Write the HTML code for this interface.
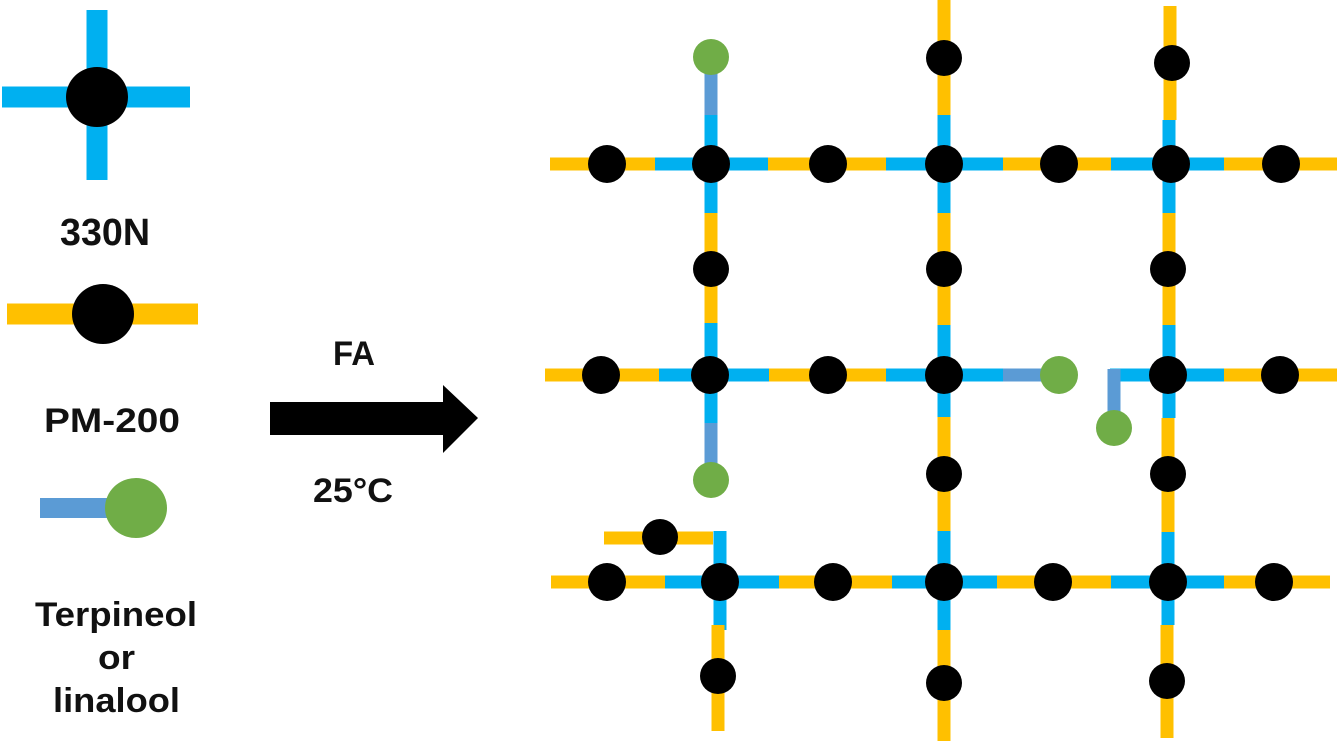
<!DOCTYPE html>
<html><head><style>html,body{margin:0;padding:0;background:#fff;}svg{display:block}</style></head><body>
<svg width="1339" height="741" viewBox="0 0 1339 741" xmlns="http://www.w3.org/2000/svg">
<g fill="none" stroke-width="13">
<line x1="550" y1="164" x2="665" y2="164" stroke="#FFC000"/>
<line x1="655" y1="164" x2="768" y2="164" stroke="#00B0F0"/>
<line x1="768" y1="164" x2="886" y2="164" stroke="#FFC000"/>
<line x1="886" y1="164" x2="1003" y2="164" stroke="#00B0F0"/>
<line x1="1003" y1="164" x2="1111" y2="164" stroke="#FFC000"/>
<line x1="1111" y1="164" x2="1224" y2="164" stroke="#00B0F0"/>
<line x1="1224" y1="164" x2="1337" y2="164" stroke="#FFC000"/>
<line x1="545" y1="375" x2="659" y2="375" stroke="#FFC000"/>
<line x1="659" y1="375" x2="769" y2="375" stroke="#00B0F0"/>
<line x1="769" y1="375" x2="886" y2="375" stroke="#FFC000"/>
<line x1="886" y1="375" x2="1003" y2="375" stroke="#00B0F0"/>
<line x1="1003" y1="375" x2="1045" y2="375" stroke="#5B9BD5"/>
<line x1="1110" y1="375" x2="1224" y2="375" stroke="#00B0F0"/>
<line x1="1224" y1="375" x2="1337" y2="375" stroke="#FFC000"/>
<line x1="1114" y1="369" x2="1114" y2="415" stroke="#5B9BD5"/>
<line x1="551" y1="582" x2="665" y2="582" stroke="#FFC000"/>
<line x1="665" y1="582" x2="779" y2="582" stroke="#00B0F0"/>
<line x1="779" y1="582" x2="892" y2="582" stroke="#FFC000"/>
<line x1="892" y1="582" x2="997" y2="582" stroke="#00B0F0"/>
<line x1="997" y1="582" x2="1111" y2="582" stroke="#FFC000"/>
<line x1="1111" y1="582" x2="1224" y2="582" stroke="#00B0F0"/>
<line x1="1224" y1="582" x2="1330" y2="582" stroke="#FFC000"/>
<line x1="604" y1="538" x2="713" y2="538" stroke="#FFC000"/>
<line x1="720" y1="531" x2="720" y2="630" stroke="#00B0F0"/>
<line x1="718" y1="625" x2="718" y2="731" stroke="#FFC000"/>
<line x1="711" y1="70" x2="711" y2="115" stroke="#5B9BD5"/>
<line x1="711" y1="115" x2="711" y2="213" stroke="#00B0F0"/>
<line x1="711" y1="213" x2="711" y2="323" stroke="#FFC000"/>
<line x1="711" y1="323" x2="711" y2="423" stroke="#00B0F0"/>
<line x1="711" y1="423" x2="711" y2="470" stroke="#5B9BD5"/>
<line x1="944" y1="0" x2="944" y2="115" stroke="#FFC000"/>
<line x1="944" y1="115" x2="944" y2="213" stroke="#00B0F0"/>
<line x1="944" y1="213" x2="944" y2="325" stroke="#FFC000"/>
<line x1="944" y1="325" x2="944" y2="417" stroke="#00B0F0"/>
<line x1="944" y1="417" x2="944" y2="531" stroke="#FFC000"/>
<line x1="944" y1="531" x2="944" y2="630" stroke="#00B0F0"/>
<line x1="944" y1="630" x2="944" y2="741" stroke="#FFC000"/>
<line x1="1170" y1="6" x2="1170" y2="120" stroke="#FFC000"/>
<line x1="1169" y1="120" x2="1169" y2="213" stroke="#00B0F0"/>
<line x1="1169" y1="213" x2="1169" y2="325" stroke="#FFC000"/>
<line x1="1169" y1="325" x2="1169" y2="418" stroke="#00B0F0"/>
<line x1="1168" y1="418" x2="1168" y2="532" stroke="#FFC000"/>
<line x1="1168" y1="532" x2="1168" y2="625" stroke="#00B0F0"/>
<line x1="1167" y1="625" x2="1167" y2="738" stroke="#FFC000"/>
</g>
<g fill="#000">
<circle cx="607" cy="164" r="19"/><circle cx="711" cy="164" r="19"/><circle cx="828" cy="164" r="19"/><circle cx="944" cy="164" r="19"/><circle cx="1059" cy="164" r="19"/><circle cx="1171" cy="164" r="19"/><circle cx="1281" cy="164" r="19"/>
<circle cx="944" cy="58" r="18"/><circle cx="1172" cy="63" r="18"/>
<circle cx="711" cy="269" r="18"/><circle cx="944" cy="269" r="18"/><circle cx="1168" cy="269" r="18"/>
<circle cx="601" cy="375" r="19"/><circle cx="710" cy="375" r="19"/><circle cx="828" cy="375" r="19"/><circle cx="944" cy="375" r="19"/><circle cx="1168" cy="375" r="19"/><circle cx="1280" cy="375" r="19"/>
<circle cx="944" cy="474" r="18"/><circle cx="1168" cy="474" r="18"/>
<circle cx="660" cy="537" r="18"/>
<circle cx="607" cy="582" r="19"/><circle cx="720" cy="582" r="19"/><circle cx="833" cy="582" r="19"/><circle cx="944" cy="582" r="19"/><circle cx="1053" cy="582" r="19"/><circle cx="1168" cy="582" r="19"/><circle cx="1274" cy="582" r="19"/>
<circle cx="718" cy="676" r="18"/><circle cx="944" cy="683" r="18"/><circle cx="1167" cy="681" r="18"/>
</g>
<g fill="#70AD47">
<circle cx="711" cy="57" r="18"/><circle cx="711" cy="480" r="18"/><circle cx="1059" cy="375" r="19"/><circle cx="1114" cy="428" r="18"/>
</g>
<line x1="2" y1="97" x2="190" y2="97" stroke="#00B0F0" stroke-width="21"/>
<line x1="97" y1="10" x2="97" y2="180" stroke="#00B0F0" stroke-width="21"/>
<ellipse cx="97" cy="97" rx="31" ry="30" fill="#000"/>
<line x1="7" y1="314" x2="198" y2="314" stroke="#FFC000" stroke-width="21"/>
<ellipse cx="103" cy="314" rx="31" ry="30" fill="#000"/>
<line x1="40" y1="508" x2="110" y2="508" stroke="#5B9BD5" stroke-width="20"/>
<ellipse cx="136" cy="508" rx="31" ry="30" fill="#70AD47"/>
<g font-family="Liberation Sans, DejaVu Sans, sans-serif" font-weight="bold" font-size="34" fill="#111">
<text x="60" y="245" font-size="38" textLength="90" lengthAdjust="spacingAndGlyphs">330N</text>
<text x="44" y="432" textLength="136" lengthAdjust="spacingAndGlyphs">PM-200</text>
<text x="35" y="626" textLength="162" lengthAdjust="spacingAndGlyphs">Terpineol</text>
<text x="98" y="669" textLength="37" lengthAdjust="spacingAndGlyphs">or</text>
<text x="53" y="712" textLength="127" lengthAdjust="spacingAndGlyphs">linalool</text>
<text x="333" y="365" textLength="42" lengthAdjust="spacingAndGlyphs">FA</text>
<text x="313" y="502" textLength="80" lengthAdjust="spacingAndGlyphs">25°C</text>
</g>
<polygon points="270,402 443,402 443,385 478,418 443,453 443,435 270,435" fill="#000"/>
</svg>
</body></html>
